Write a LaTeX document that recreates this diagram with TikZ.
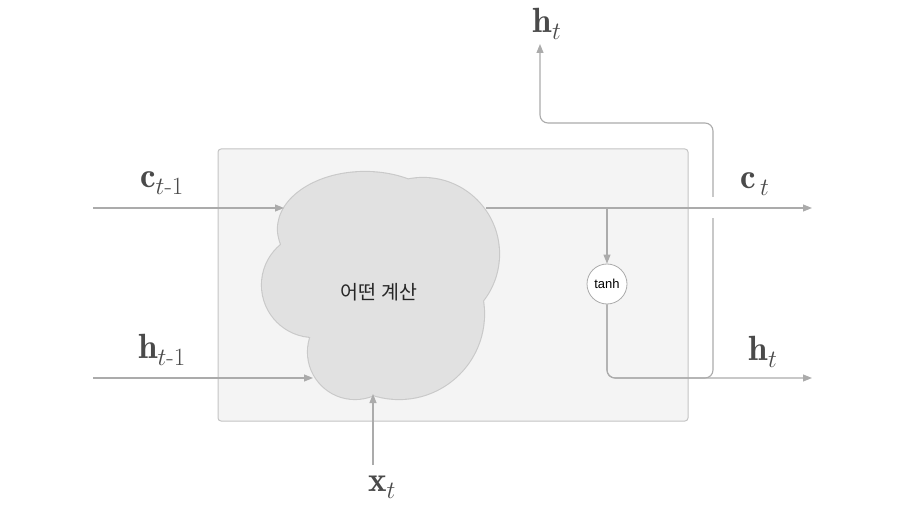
\documentclass[tikz,border=0pt]{standalone}
\usepackage{amsmath}
\usepackage{fontspec}
\newfontfamily\kr{Noto Sans CJK KR}
\newfontfamily\lab{Liberation Sans}
\usetikzlibrary{arrows.meta}
\definecolor{ln}{HTML}{ABABAB}
\definecolor{boxfill}{HTML}{F4F4F4}
\definecolor{boxline}{HTML}{C4C4C4}
\definecolor{cloudfill}{HTML}{E1E1E1}
\definecolor{cloudline}{HTML}{C9C9C9}
\definecolor{txt}{HTML}{4A4A4A}
\tikzset{
  conn/.style={draw=ln, line width=1.1pt, rounded corners=8pt},
  arr/.style={conn, -{Triangle[length=9pt,width=7pt]}},
  lbl/.style={text=txt, font=\fontsize{35}{38}\selectfont, inner sep=0pt},
}
\begin{document}
\begin{tikzpicture}[x=1pt,y=-1pt]
\useasboundingbox (0,0) rectangle (898,508);
% cell box
\node[draw=boxline, fill=boxfill, line width=1pt, rounded corners=3pt, minimum width=470pt, minimum height=272pt, inner sep=0pt] (cell) at (453,285) {};
% cloud
\def\lobes{(365,229) ellipse (87 and 57) (423,254) circle (76) (314,285) circle (52) (399,314) circle (85) (355,352) circle (47)}
\draw[cloudline, line width=2.2pt] \lobes;
\fill[cloudfill] \lobes (380,290) circle (70);
\node[font=\kr\fontsize{19.5}{21}\selectfont, text=black!85] (cloud) at (379,292) {어떤 계산};
% tanh
\node[draw=ln, fill=white, circle, minimum size=40pt, inner sep=0pt, line width=0.8pt, font=\lab\fontsize{13}{14}\selectfont] (tanh) at (607,284) {tanh};
% coordinates
\coordinate (cin0) at (93,208);
\coordinate (cin1) at (284,208);
\coordinate (hin0) at (93,378);
\coordinate (hin1) at (313,378);
\coordinate (xin0) at (373,465);
\coordinate (xin1) at (373,394);
\coordinate (cfrom) at (486,208);
\coordinate (cout) at (812,208);
\coordinate (cbr) at (607,208);
\coordinate (hbr) at (713,378);
\coordinate (hout) at (812,378);
\coordinate (hup) at (540,44);
\coordinate (gapa) at (713,197);
\coordinate (gapb) at (713,218);
% inputs
\draw[arr] (cin0) -- (cin1);
\draw[arr] (hin0) -- (hin1);
\draw[arr] (xin0) -- (xin1);
% h path
\draw[arr] (tanh.south) |- (hout);
\draw[arr] (tanh.south) |- (hbr) -- (713,123) -| (hup);
\draw[white, line width=3pt] (gapa) -- (gapb);
% c path
\draw[arr] (cfrom) -- (cout);
\draw[arr] (cbr) -- (tanh.north);
% labels
\node[lbl] (lc) at (162,183) {$\mathbf{c}_{t\text{-}1}$};
\node[lbl] (lh) at (162,350) {$\mathbf{h}_{t\text{-}1}$};
\node[lbl] (lx) at (382,487) {$\mathbf{x}_{t}$};
\node[lbl] (lhtop) at (547,24) {$\mathbf{h}_{t}$};
\node[lbl] (lct) at (755,184) {$\mathbf{c}_{\,t}$};
\node[lbl] (lht) at (763,352) {$\mathbf{h}_{t}$};
\end{tikzpicture}
\end{document}
